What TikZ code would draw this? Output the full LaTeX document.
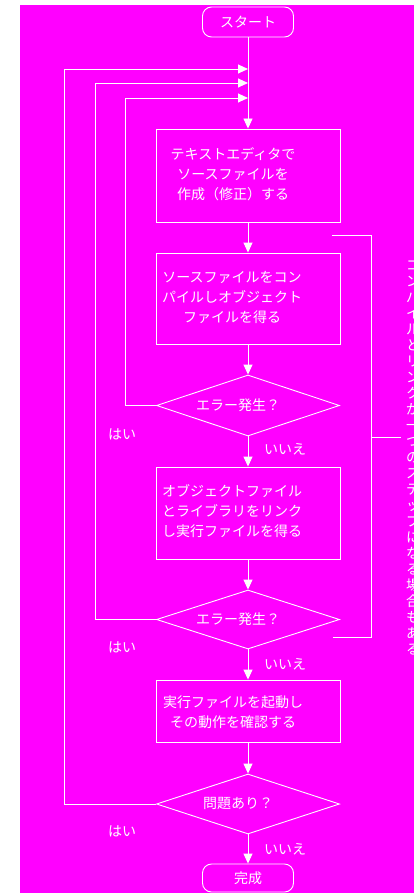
\documentclass[tikz,border=0pt]{standalone}
\usepackage{fontspec}
\newfontfamily\jp{Noto Sans CJK JP}
\usetikzlibrary{arrows.meta,shapes.geometric}
\definecolor{mag}{HTML}{FF00FF}
\begin{document}
\begin{tikzpicture}[x=1pt,y=-1pt,line width=0.9pt,
  every node/.style={font=\jp\fontsize{14}{20}\selectfont, text=white},
  box/.style={draw=white, minimum width=184pt, minimum height=#1, inner sep=0pt},
  term/.style={draw=white, rounded corners=9pt, minimum width=91pt, minimum height=#1, inner sep=0pt},
  dia/.style={shape=diamond, draw=white, aspect=3, minimum width=183pt, minimum height=#1, inner sep=0pt},
  txt/.style={align=center, inner sep=0pt},
  lbl/.style={inner sep=0pt},
  flow/.style={draw=white, -{Triangle[width=9pt,length=10pt]}},
  line/.style={draw=white}]
\useasboundingbox (0,0) rectangle (414,893);
\fill[white] (0,0) rectangle (414,893);
\fill[mag] (20,5) rectangle (414,893);

% shapes
\node[term=30pt] (start) at (248,22) {スタート};
\node[box=93pt] (b1) at (248,175.5) {};
\node[box=91pt] (b2) at (248,298.5) {};
\node[dia=61pt] (d1) at (248,405.5) {};
\node[box=92pt] (b3) at (248,513) {};
\node[dia=59pt] (d2) at (248,619.5) {};
\node[box=62pt] (b4) at (248,711) {};
\node[dia=60pt] (d3) at (248,804) {};
\node[term=28pt] (end) at (248,878) {完成};

% texts
\node[txt] (t1) at (233,174) {テキストエディタで\\ソースファイルを\\作成（修正）する};
\node[txt] (t2) at (232,297) {ソースファイルをコン\\パイルしオブジェクト\\ファイルを得る};
\node[txt] (t3) at (232,511) {オブジェクトファイル\\とライブラリをリンク\\し実行ファイルを得る};
\node[txt] (t4) at (233,712) {実行ファイルを起動し\\その動作を確認する};
\node[lbl] (q1) at (238,405) {エラー発生？};
\node[lbl] (q2) at (238,619) {エラー発生？};
\node[lbl] (q3) at (238,803) {問題あり？};

\node[lbl] (y1) at (122,434) {はい};
\node[lbl] (y2) at (122,647) {はい};
\node[lbl] (y3) at (122,831) {はい};
\node[lbl] (n1) at (285,449) {いいえ};
\node[lbl] (n2) at (285,664) {いいえ};
\node[lbl] (n3) at (285,849) {いいえ};

% main flow
\draw[flow] (start) -- (b1);
\draw[flow] (b1) -- (b2);
\draw[flow] (b2) -- (d1);
\draw[flow] (d1) -- (b3);
\draw[flow] (b3) -- (d2);
\draw[flow] (d2) -- (b4);
\draw[flow] (b4) -- (d3);
\draw[flow] (d3) -- (end);

% loops back
\coordinate (j1) at (248,69);
\coordinate (j2) at (248,83);
\coordinate (j3) at (248,98);
\coordinate (c1) at (64,69);
\coordinate (c2) at (95,83);
\coordinate (c3) at (125,98);
\draw[flow] (d3.west) -| (c1) -- (j1);
\draw[flow] (d2.west) -| (c2) -- (j2);
\draw[flow] (d1.west) -| (c3) -- (j3);

% bracket
\coordinate (k1) at (332,235);
\coordinate (k2) at (371,235);
\coordinate (k3) at (371,637);
\coordinate (k4) at (333,637);
\coordinate (k5) at (371,437);
\coordinate (k6) at (401,437);
\draw[line] (k1) -- (k2) -- (k3) -- (k4);
\draw[line] (k5) -- (k6);

% vertical note (cut off at the right edge, as in the reference)
\begin{scope}
\clip (20,5) rectangle (414,893);
\node[txt, font=\jp\fontsize{14}{16}\selectfont] (vt) at (413,458)
 {コ\\ン\\パ\\イ\\ル\\と\\リ\\ン\\ク\\が\\一\\つ\\の\\ス\\テ\\ッ\\プ\\に\\な\\る\\場\\合\\も\\あ\\る};
\end{scope}
\end{tikzpicture}
\end{document}
